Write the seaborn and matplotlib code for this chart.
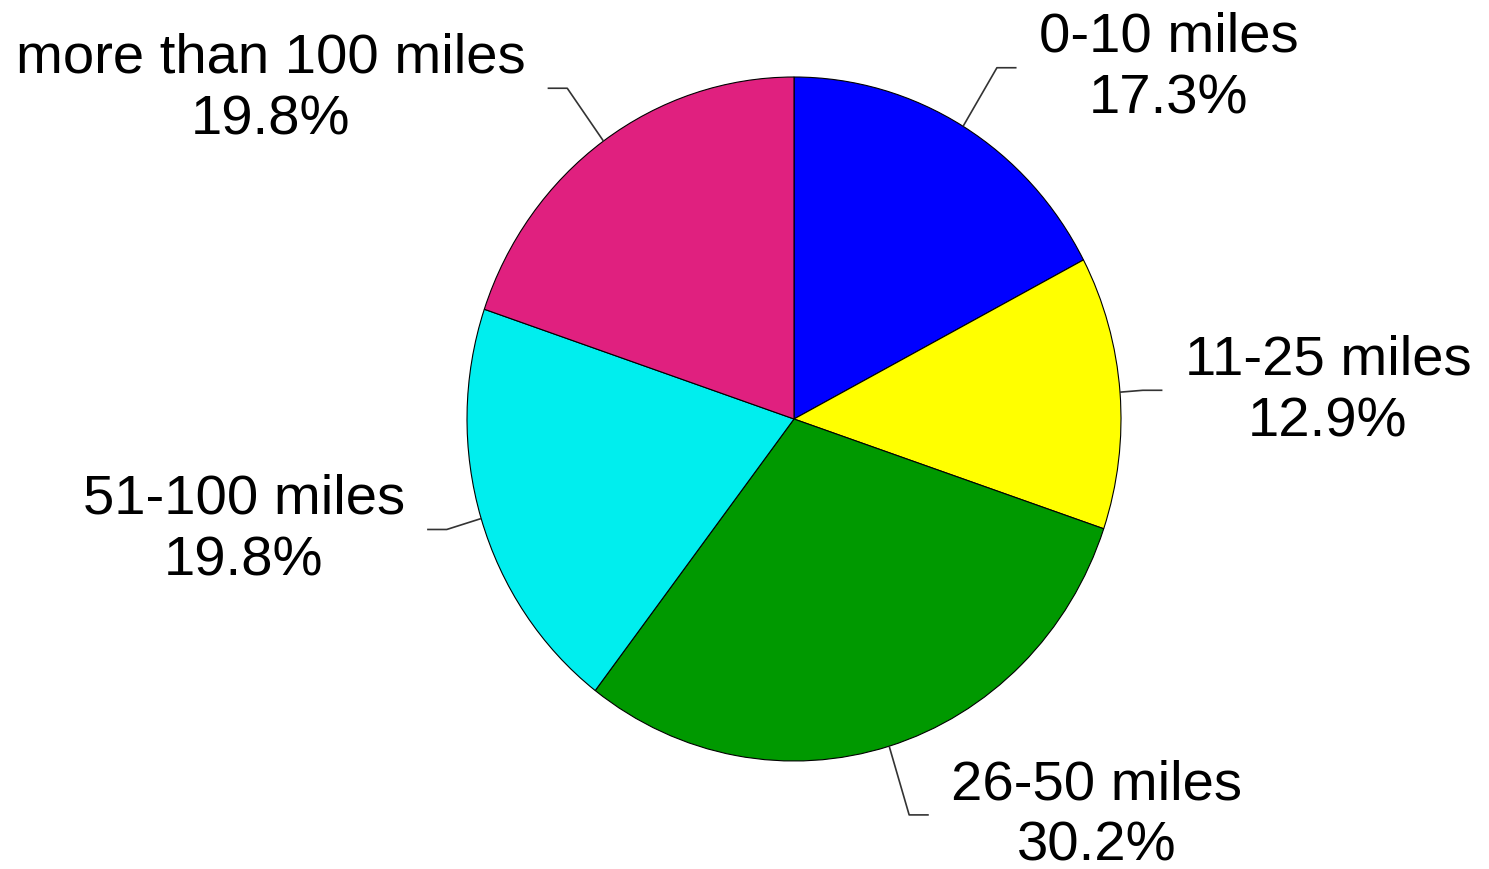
import numpy as np
import matplotlib
matplotlib.use("Agg")
import matplotlib.pyplot as plt
import seaborn as sns

# donnees du camembert
categories = ["0-10 miles", "11-25 miles", "26-50 miles", "51-100 miles", "more than 100 miles"]
percents = [17.3, 12.9, 30.2, 19.8, 19.8]
colors = ["#0000FF", "#FFFF00", "#009900", "#00EEEE", "#E0207F"]

# rayon du coude de chaque ligne de rappel (mise en page)
elbow_r = [1.20, 1.07, 1.21, 1.11, 1.19]

sns.set_theme(style="white")
plt.rcParams["font.family"] = ["Liberation Sans", "DejaVu Sans"]

fig = plt.figure(figsize=(14.89, 8.70), dpi=100)
ax = fig.add_axes([0, 0, 1, 1])

wedges, _ = ax.pie(percents, colors=colors, startangle=90, counterclock=False,
                   wedgeprops=dict(edgecolor="black", linewidth=0.8))

# axes : centre a (794, 420) px, rayon 327 px en x et 342 px en y
ax.set_aspect("auto")
ax.set_xlim(-794 / 327, (1489 - 794) / 327)
ax.set_ylim(-(870 - 420) / 342, 420 / 342)
ax.axis("off")

hseg = 0.06
gap = 0.068
for w, cat, pct, r in zip(wedges, categories, percents, elbow_r):
    ang = np.deg2rad((w.theta1 + w.theta2) / 2)
    x0, y0 = np.cos(ang), np.sin(ang)
    x1, y1 = r * x0, r * y0
    side = 1 if x0 > 0 else -1
    x2 = x1 + side * hseg
    ax.plot([x0, x1, x2], [y0, y1, y1], color="#333333", lw=1.2, solid_capstyle="butt")
    ax.text(x2 + side * gap, y1, f"{cat}\n{pct:.1f}%", fontsize=40.5,
            ha="left" if side > 0 else "right", va="center",
            multialignment="center", linespacing=1.24, color="black")

fig.savefig("out.png", dpi=100)
